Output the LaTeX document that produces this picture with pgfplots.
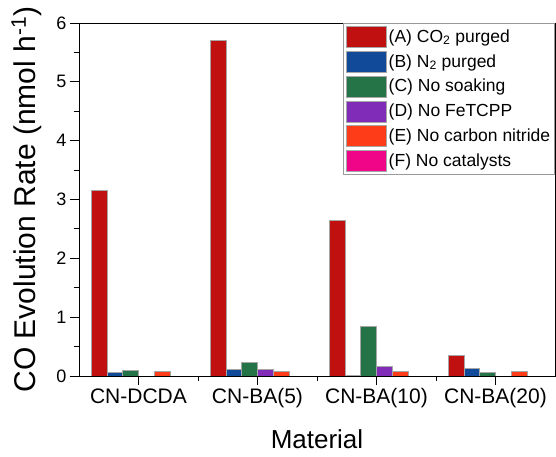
\documentclass[border=0pt]{standalone}
\usepackage{fontspec}
\setmainfont{Liberation Sans}
\usepackage{pgfplots}
\usepackage{pgfplotstable}
\pgfplotsset{compat=1.18}

\definecolor{cA}{HTML}{C01010}
\definecolor{cB}{HTML}{104A98}
\definecolor{cC}{HTML}{247448}
\definecolor{cD}{HTML}{802CB8}
\definecolor{cE}{HTML}{FF3C18}
\definecolor{cF}{HTML}{F00488}

\pgfplotstableread{
x  A     B      C      D      E      F
1  3.16  0.063  0.097  0      0.085  0
2  5.71  0.107  0.233  0.118  0.085  0
3  2.65  0.012  0.845  0.165  0.085  0
4  0.35  0.136  0.068  0      0.085  0
}\rates

\pgfplotsset{
  boxleg/.style={legend image code/.code={%
    \draw[##1,draw=gray!70,line width=0.6pt] (0pt,-10.5pt) rectangle (40pt,10.5pt);}},
}

\begin{document}
\begin{tikzpicture}
\useasboundingbox (-79pt,-80pt) rectangle (477pt,376pt);
\begin{axis}[
  scale only axis,
  width=476pt, height=353pt,
  xmin=0.5, xmax=4.5,
  ymin=0, ymax=6,
  ybar=0pt, bar width=0.132,
  axis on top,
  axis line style={line width=0.9pt},
  tick style={line width=0.9pt, black},
  tick align=outside,
  xtick pos=bottom, ytick pos=left,
  major tick length=9pt, minor tick length=5pt,
  xtick={1,2,3,4},
  xticklabels={CN-DCDA,CN-BA(5),CN-BA(10),CN-BA(20)},
  minor xtick={1.5,2.5,3.5},
  ytick={0,1,2,3,4,5,6},
  minor ytick={0.5,1.5,2.5,3.5,4.5,5.5},
  /pgf/number format/assume math mode=true,
  x tick label style={font=\fontsize{21}{24}\selectfont},
  y tick label style={font=\fontsize{18}{21}\selectfont},
  xlabel={Material},
  ylabel={CO Evolution Rate (nmol h\textsuperscript{-1})},
  xlabel style={font=\fontsize{26}{29}\selectfont, inner sep=0pt,
    at={(axis description cs:0.5,-0.205)}, anchor=base},
  ylabel style={font=\fontsize{30}{33}\selectfont,
    at={(axis description cs:-0.0924,0.5)}, anchor=base},
  legend style={at={(1,1)}, anchor=north east, draw=gray!80, line width=0.6pt,
    font=\fontsize{17.5}{20}\selectfont, row sep=3.3pt, inner sep=2.5pt,
    cells={anchor=west}},
  every axis plot/.append style={draw=gray!70, line width=0.6pt},
]
\addplot[fill=cA, boxleg] table[x=x,y=A] {\rates};
\addlegendentry{(A) CO\textsubscript{2} purged}
\addplot[fill=cB, boxleg] table[x=x,y=B] {\rates};
\addlegendentry{(B) N\textsubscript{2} purged}
\addplot[fill=cC, boxleg] table[x=x,y=C] {\rates};
\addlegendentry{(C) No soaking}
\addplot[fill=cD, boxleg] table[x=x,y=D] {\rates};
\addlegendentry{(D) No FeTCPP}
\addplot[fill=cE, boxleg] table[x=x,y=E] {\rates};
\addlegendentry{(E) No carbon nitride}
\addplot[fill=cF, boxleg] table[x=x,y=F] {\rates};
\addlegendentry{(F) No catalysts}
\end{axis}
\end{tikzpicture}
\end{document}
